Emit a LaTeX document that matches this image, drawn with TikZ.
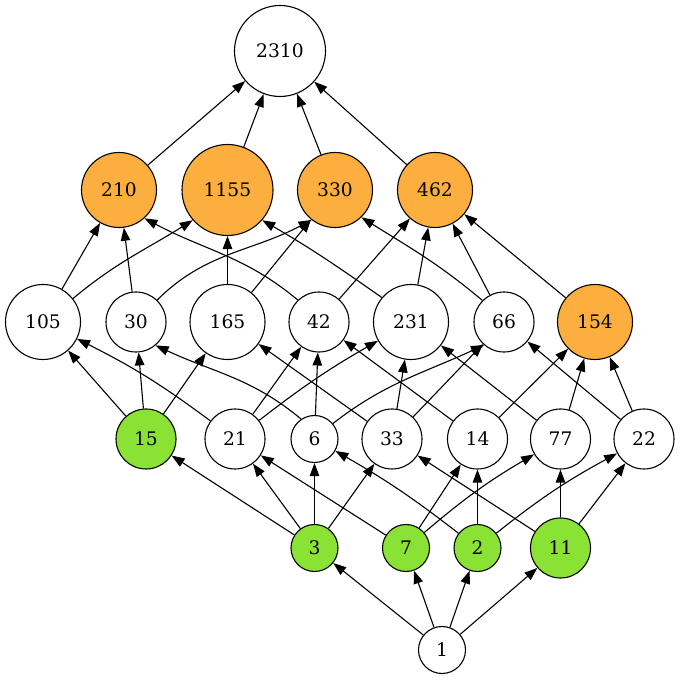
\documentclass[tikz,border=0pt]{standalone}
\usepackage{fontspec}
\setmainfont{DejaVu Serif}
\usetikzlibrary{arrows.meta}
\definecolor{orng}{HTML}{FCAF3E}
\definecolor{grn}{HTML}{8AE234}
\begin{document}
\begin{tikzpicture}[x=1pt,y=1pt,
  nd/.style={circle,draw=black,line width=1.1pt,inner sep=0pt,font=\fontsize{18.67}{22}\selectfont},
  wh/.style={nd,fill=white}, og/.style={nd,fill=orng}, gr/.style={nd,fill=grn},
  d1/.style={minimum size=47pt}, d2/.style={minimum size=60pt},
  d3/.style={minimum size=75pt}, d4/.style={minimum size=91pt},
  edge/.style={line width=1.1pt,-{Triangle[length=13pt,width=9.5pt]}}]
\useasboundingbox (0,0) rectangle (680,680);
% nodes
\node[wh,d4] (n2310) at (280,629) {2310};
\node[og,d3] (n210) at (119,490) {210};
\node[og,d4] (n1155) at (227.5,490) {1155};
\node[og,d3] (n330) at (335,490) {330};
\node[og,d3] (n462) at (435,490) {462};
\node[wh,d3] (n105) at (43,358) {105};
\node[wh,d2] (n30) at (136,358) {30};
\node[wh,d3] (n165) at (227.5,358) {165};
\node[wh,d2] (n42) at (319,358) {42};
\node[wh,d3] (n231) at (411,358) {231};
\node[wh,d2] (n66) at (504,358) {66};
\node[og,d3] (n154) at (595,358) {154};
\node[gr,d2] (n15) at (146,241) {15};
\node[wh,d2] (n21) at (235,241) {21};
\node[wh,d1] (n6) at (314.5,241) {6};
\node[wh,d2] (n33) at (392,241) {33};
\node[wh,d2] (n14) at (477.5,241) {14};
\node[wh,d2] (n77) at (560.5,241) {77};
\node[wh,d2] (n22) at (644,241) {22};
\node[gr,d1] (n3) at (314.5,132) {3};
\node[gr,d1] (n7) at (406,132) {7};
\node[gr,d1] (n2) at (477.5,132) {2};
\node[gr,d2] (n11) at (560.5,132) {11};
\node[wh,d1] (n1) at (442,30) {1};
% edges from 1
\draw[edge] (n1) -- (n3);
\draw[edge] (n1) -- (n7);
\draw[edge] (n1) -- (n2);
\draw[edge] (n1) -- (n11);
% primes to products of two
\draw[edge] (n3) -- (n15);
\draw[edge] (n3) -- (n21);
\draw[edge] (n3) -- (n6);
\draw[edge] (n3) -- (n33);
\draw[edge] (n7) -- (n21);
\draw[edge] (n7) -- (n14);
\draw[edge] (n7) to[bend left=5] (n77);
\draw[edge] (n2) to[bend right=4] (n6);
\draw[edge] (n2) -- (n14);
\draw[edge] (n2) to[bend left=5] (n22);
\draw[edge] (n11) -- (n33);
\draw[edge] (n11) -- (n77);
\draw[edge] (n11) -- (n22);
% products of two to products of three
\draw[edge] (n15) -- (n105);
\draw[edge] (n15) -- (n30);
\draw[edge] (n15) -- (n165);
\draw[edge] (n21) to[bend right=5] (n105);
\draw[edge] (n21) -- (n42);
\draw[edge] (n21) to[bend left=4] (n231);
\draw[edge] (n6.124) to[out=140,in=-25] (n30.-50);
\draw[edge] (n6) -- (n42);
\draw[edge] (n6.40) to[out=38,in=205] (n66.229);
\draw[edge] (n33) -- (n165);
\draw[edge] (n33) -- (n231);
\draw[edge] (n33) -- (n66);
\draw[edge] (n14) -- (n42);
\draw[edge] (n14) -- (n154);
\draw[edge] (n77) -- (n231);
\draw[edge] (n77) -- (n154);
\draw[edge] (n22) -- (n66);
\draw[edge] (n22) -- (n154);
% products of three to products of four
\draw[edge] (n105) -- (n210);
\draw[edge] (n105.38) to[out=40,in=212] (n1155.221);
\draw[edge] (n30) -- (n210);
\draw[edge] (n30.46) to[out=45,in=208] (n330.232);
\draw[edge] (n165) -- (n1155);
\draw[edge] (n165) -- (n330);
\draw[edge] (n42.134) to[out=140,in=-28] (n210.-48);
\draw[edge] (n42) -- (n462);
\draw[edge] (n231.140) to[out=145,in=-30] (n1155.-41);
\draw[edge] (n231) -- (n462);
\draw[edge] (n66.135) to[out=140,in=-32] (n330.-46);
\draw[edge] (n66) -- (n462);
\draw[edge] (n154) -- (n462);
% to 2310
\draw[edge] (n210) -- (n2310);
\draw[edge] (n1155) -- (n2310);
\draw[edge] (n330) -- (n2310);
\draw[edge] (n462) -- (n2310);
\end{tikzpicture}
\end{document}
